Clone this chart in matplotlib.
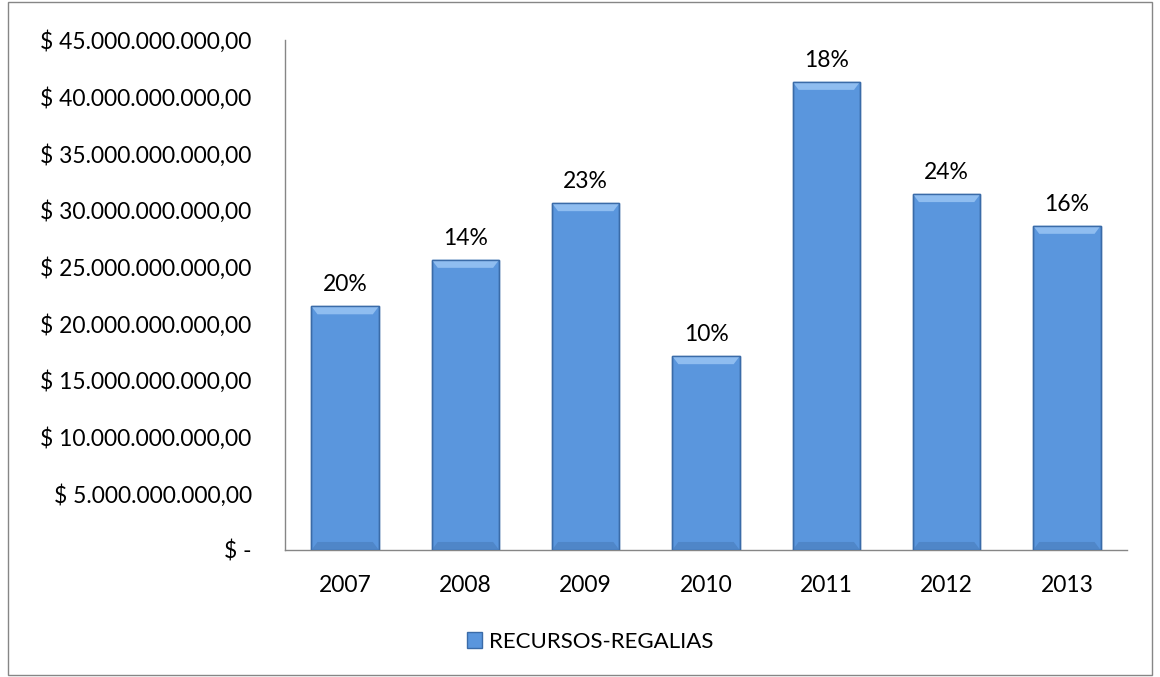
import matplotlib
matplotlib.use('Agg')
import matplotlib.pyplot as plt
from matplotlib.ticker import FuncFormatter, MultipleLocator
from matplotlib.patches import Rectangle, Polygon

plt.rcParams['font.family'] = ['Lato', 'DejaVu Sans']

years = ['2007', '2008', '2009', '2010', '2011', '2012', '2013']
recursos = [21.5e9, 25.6e9, 30.6e9, 17.1e9, 41.3e9, 31.4e9, 28.6e9]
pct = ['20%', '14%', '23%', '10%', '18%', '24%', '16%']

fig = plt.figure(figsize=(11.6, 6.77), dpi=100)
ax = fig.add_axes([0.2457, 0.1876, 0.7259, 0.7534])

x = range(len(years))
bars = ax.bar(x, recursos, width=0.56, color='#5A96DD', edgecolor='#3A6BA8',
              linewidth=1.0, label='RECURSOS-REGALIAS', zorder=2)

ax.set_ylim(0, 45e9)
ax.set_xlim(-0.5, len(years) - 0.5)

# bevel look: light band on top, darker band at bottom
bev_y = 8 * 45e9 / 510
bev_x = 0.05
for b in bars:
    x0, x1, h = b.get_x(), b.get_x() + b.get_width(), b.get_height()
    ax.add_patch(Polygon([(x0, h), (x1, h), (x1 - bev_x, h - bev_y), (x0 + bev_x, h - bev_y)],
                         closed=True, facecolor='#8FBDF0', edgecolor='none', zorder=3))
    ax.add_patch(Polygon([(x0, 0), (x1, 0), (x1 - bev_x, bev_y), (x0 + bev_x, bev_y)],
                         closed=True, facecolor='#4F86C8', edgecolor='none', zorder=3))
    ax.add_patch(Rectangle((x0, 0), x1 - x0, h, fill=False, edgecolor='#3A6BA8',
                           linewidth=1.0, zorder=4))

for b, p in zip(bars, pct):
    ax.annotate(p, (b.get_x() + b.get_width() / 2, b.get_height()),
                xytext=(0, 8), textcoords='offset points',
                ha='center', va='bottom', fontsize=16.5)


def money(v, pos):
    if v == 0:
        return '$ -'
    s = '{:,.2f}'.format(v).replace(',', 'X').replace('.', ',').replace('X', '.')
    return '$ ' + s


ax.yaxis.set_major_locator(MultipleLocator(5e9))
ax.yaxis.set_major_formatter(FuncFormatter(money))
ax.set_xticks(list(x))
ax.set_xticklabels(years)
ax.tick_params(axis='y', length=0, pad=24, labelsize=16.5)
ax.tick_params(axis='x', length=0, pad=18, labelsize=16.5)

for s in ['top', 'right']:
    ax.spines[s].set_visible(False)
for s in ['left', 'bottom']:
    ax.spines[s].set_color('#868686')
    ax.spines[s].set_linewidth(1.0)

leg = fig.legend(handles=[bars], labels=['RECURSOS-REGALIAS'], loc='center',
                 bbox_to_anchor=(590 / 1160, 1 - 642 / 677), frameon=False,
                 fontsize=16, handlelength=0.7, handleheight=0.7, handletextpad=0.3)

fig.patches.append(Rectangle((0.007, 0.003), 0.986, 0.994, transform=fig.transFigure,
                             fill=False, edgecolor='#868686', linewidth=1.0))

plt.savefig('out.png', dpi=100)
